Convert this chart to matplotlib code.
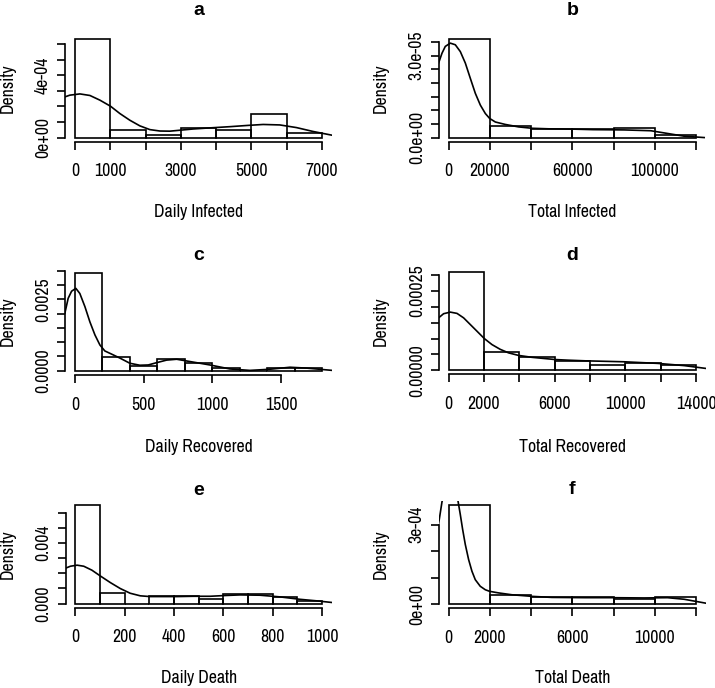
import numpy as np
import matplotlib
matplotlib.use("Agg")
import matplotlib.pyplot as plt
from matplotlib import font_manager
from matplotlib.font_manager import FontProperties
from matplotlib.textpath import TextPath

# ------------------------
# a: Daily Infected
# ------------------------
a_breaks = [0, 1000, 2000, 3000, 4000, 5000, 6000, 7000]
a_density = [6.32e-4, 0.47e-4, 0.15e-4, 0.64e-4, 0.47e-4, 1.48e-4, 0.30e-4]
a_kde_x = [-283, -142, 142, 425, 708, 1009, 1274, 1557, 1840, 2123, 2406,
           2689, 2972, 3349, 3821, 4400, 4900, 5330, 5802, 6274, 6745, 7283]
a_kde_y = [2.61e-4, 2.72e-4, 2.80e-4, 2.70e-4, 2.40e-4, 2.01e-4, 1.54e-4,
           1.11e-4, 0.75e-4, 0.51e-4, 0.42e-4, 0.41e-4, 0.47e-4, 0.55e-4,
           0.62e-4, 0.70e-4, 0.78e-4, 0.84e-4, 0.81e-4, 0.64e-4, 0.39e-4,
           0.15e-4]
a_xticks = [0, 1000, 2000, 3000, 4000, 5000, 6000, 7000]
a_xticklabels = ["0", "1000", "", "3000", "", "5000", "", "7000"]
a_yticks = [0, 1e-4, 2e-4, 3e-4, 4e-4, 5e-4, 6e-4]
a_yticklabels = ["0e+00", "", "", "", "4e-04", "", ""]

# ------------------------
# b: Total Infected
# ------------------------
b_breaks = [0, 20000, 40000, 60000, 80000, 100000, 120000]
b_density = [3.61e-5, 0.42e-5, 0.33e-5, 0.31e-5, 0.34e-5, 0.086e-5]
b_kde_x = [-4854, -3204, -1602, 825, 3252, 5680, 8107, 10534, 12961, 15388,
           17816, 19903, 22670, 27524, 33981, 40485, 48544, 59903, 70000,
           85137, 98061, 106138, 114216, 123909]
b_kde_y = [2.73e-5, 3.09e-5, 3.34e-5, 3.46e-5, 3.40e-5, 3.15e-5, 2.73e-5,
           2.17e-5, 1.62e-5, 1.19e-5, 0.88e-5, 0.70e-5, 0.57e-5, 0.48e-5,
           0.39e-5, 0.34e-5, 0.32e-5, 0.31e-5, 0.29e-5, 0.28e-5, 0.25e-5,
           0.15e-5, 0.05e-5, 0.0]
b_xticks = [0, 20000, 40000, 60000, 80000, 100000, 120000]
b_xticklabels = ["0", "20000", "", "60000", "", "100000", ""]
b_yticks = [0, 0.5e-5, 1e-5, 1.5e-5, 2e-5, 2.5e-5, 3e-5, 3.5e-5]
b_yticklabels = ["0.0e+00", "", "", "", "", "", "3.0e-05", ""]

# ------------------------
# c: Daily Recovered
# ------------------------
c_breaks = [0, 200, 400, 600, 800, 1000, 1200, 1400, 1600, 1800]
c_density = [3.43e-3, 0.49e-3, 0.163e-3, 0.407e-3, 0.256e-3, 0.08e-3,
             0.0, 0.08e-3, 0.08e-3]
c_kde_x = [-73, -49, -24, 7, 36, 73, 109, 146, 182, 218, 267, 328, 400,
           473, 534, 595, 668, 741, 801, 886, 983, 1129, 1274, 1420, 1566,
           1687, 1874]
c_kde_y = [2.01e-3, 2.53e-3, 2.78e-3, 2.88e-3, 2.70e-3, 2.24e-3, 1.71e-3,
           1.25e-3, 0.90e-3, 0.69e-3, 0.58e-3, 0.44e-3, 0.26e-3, 0.19e-3,
           0.20e-3, 0.28e-3, 0.37e-3, 0.40e-3, 0.35e-3, 0.28e-3, 0.20e-3,
           0.06e-3, 0.01e-3, 0.05e-3, 0.12e-3, 0.09e-3, 0.01e-3]
c_xticks = [0, 500, 1000, 1500]
c_xticklabels = ["0", "500", "1000", "1500"]
c_yticks = [0, 0.5e-3, 1e-3, 1.5e-3, 2e-3, 2.5e-3, 3e-3, 3.5e-3]
c_yticklabels = ["0.0000", "", "", "", "", "0.0025", "", ""]

# ------------------------
# d: Total Recovered
# ------------------------
d_breaks = [0, 2000, 4000, 6000, 8000, 10000, 12000, 14000]
d_density = [3.08e-4, 0.575e-4, 0.42e-4, 0.31e-4, 0.18e-4, 0.23e-4, 0.16e-4]
d_kde_x = [-565, -283, 96, 475, 848, 1227, 1606, 2019, 2454, 2923, 3393,
           3958, 4716, 5468, 6033, 6786, 7729, 9934, 11819, 13327, 14571]
d_kde_y = [1.65e-4, 1.78e-4, 1.83e-4, 1.79e-4, 1.65e-4, 1.44e-4, 1.23e-4,
           1.00e-4, 0.81e-4, 0.66e-4, 0.55e-4, 0.47e-4, 0.41e-4, 0.37e-4,
           0.34e-4, 0.32e-4, 0.30e-4, 0.27e-4, 0.22e-4, 0.15e-4, 0.06e-4]
d_xticks = [0, 2000, 4000, 6000, 8000, 10000, 12000, 14000]
d_xticklabels = ["0", "2000", "", "6000", "", "10000", "", "14000"]
d_yticks = [0, 5e-5, 10e-5, 15e-5, 20e-5, 25e-5, 30e-5]
d_yticklabels = ["0.00000", "", "", "", "", "0.00025", ""]

# ------------------------
# e: Daily Death
# ------------------------
e_breaks = [0, 100, 200, 300, 400, 500, 600, 700, 800, 900, 1000]
e_density = [6.5e-3, 0.7e-3, 0.0, 0.48e-3, 0.48e-3, 0.33e-3, 0.66e-3,
             0.66e-3, 0.44e-3, 0.15e-3]
e_kde_x = [-40, -20, 7, 34, 67, 101, 142, 182, 222, 263, 303, 344, 411,
           478, 546, 607, 667, 748, 829, 910, 977, 1040]
e_kde_y = [2.33e-3, 2.46e-3, 2.53e-3, 2.46e-3, 2.20e-3, 1.82e-3, 1.38e-3,
           0.99e-3, 0.68e-3, 0.51e-3, 0.46e-3, 0.46e-3, 0.46e-3, 0.48e-3,
           0.48e-3, 0.53e-3, 0.57e-3, 0.55e-3, 0.44e-3, 0.28e-3, 0.18e-3,
           0.07e-3]
e_xticks = [0, 200, 400, 600, 800, 1000]
e_xticklabels = ["0", "200", "400", "600", "800", "1000"]
e_yticks = [0, 1e-3, 2e-3, 3e-3, 4e-3, 5e-3, 6e-3]
e_yticklabels = ["0.000", "", "", "", "0.004", "", ""]

# ------------------------
# f: Total Death
# ------------------------
f_breaks = [0, 2000, 4000, 6000, 8000, 10000, 12000]
f_density = [3.74e-4, 0.35e-4, 0.25e-4, 0.25e-4, 0.18e-4, 0.25e-4]
f_kde_x = [-485, -320, 60, 456, 567, 680, 809, 970, 1131, 1293, 1535, 1778,
           1987, 2423, 3069, 4038, 5008, 6623, 7868, 9483, 10614, 11422,
           12488]
f_kde_y = [3.03e-4, 3.86e-4, 5.0e-4, 3.89e-4, 3.38e-4, 2.82e-4, 2.25e-4,
           1.68e-4, 1.24e-4, 0.92e-4, 0.67e-4, 0.54e-4, 0.48e-4, 0.42e-4,
           0.35e-4, 0.29e-4, 0.25e-4, 0.24e-4, 0.24e-4, 0.23e-4, 0.24e-4,
           0.18e-4, 0.03e-4]
f_xticks = [0, 2000, 4000, 6000, 8000, 10000, 12000]
f_xticklabels = ["0", "2000", "", "6000", "", "10000", ""]
f_yticks = [0, 1e-4, 2e-4, 3e-4]
f_yticklabels = ["0e+00", "", "", "3e-04"]

titles = ["a", "b", "c", "d", "e", "f"]
xlabels = ["Daily Infected", "Total Infected", "Daily Recovered",
           "Total Recovered", "Daily Death", "Total Death"]

# ------------------------
# layout (pixels, origin top-left)
# ------------------------
W, H = 715, 688
LW = 1.2

# R's narrow Helvetica look: take a condensed sans if one is installed
available = {f.name for f in font_manager.fontManager.ttflist}
FONT = "Liberation Sans"
for cand in ["Liberation Sans Narrow", "Nimbus Sans Narrow", "Arial Narrow",
             "Archivo Narrow", "Roboto Condensed", "PT Sans Narrow"]:
    if cand in available:
        FONT = cand
        break
plt.rcParams["font.family"] = [FONT, "Liberation Sans", "DejaVu Sans"]

# plot region: left, top, right, bottom
regions = [
    (65, 35.1, 332, 141.5), (438.7, 35.1, 706, 141.5),
    (65, 268.7, 332, 374.6), (438.7, 268.4, 706, 374.3),
    (65.5, 501, 332, 607.5), (438.7, 501, 706, 608),
]
title_base = [15, 15, 260, 260, 495, 494]
xlabel_y = [212, 212, 447, 447, 678, 678]
ylabel_x = [7.5, 380.5, 7.5, 380.5, 7.5, 380.5]


def fx(x):
    return x / W


def fy(y):
    return 1 - y / H


panels = [
    (a_breaks, a_density, a_kde_x, a_kde_y, a_xticks, a_xticklabels, a_yticks, a_yticklabels),
    (b_breaks, b_density, b_kde_x, b_kde_y, b_xticks, b_xticklabels, b_yticks, b_yticklabels),
    (c_breaks, c_density, c_kde_x, c_kde_y, c_xticks, c_xticklabels, c_yticks, c_yticklabels),
    (d_breaks, d_density, d_kde_x, d_kde_y, d_xticks, d_xticklabels, d_yticks, d_yticklabels),
    (e_breaks, e_density, e_kde_x, e_kde_y, e_xticks, e_xticklabels, e_yticks, e_yticklabels),
    (f_breaks, f_density, f_kde_x, f_kde_y, f_xticks, f_xticklabels, f_yticks, f_yticklabels),
]

fig = plt.figure(figsize=(W / 100, H / 100), dpi=100)

# font size: balance the reference's text width ("Daily Infected" ~86 px)
# against its digit height (~13 px)
probe = fig.text(0, 0, "Daily Infected", fontsize=12)
w_probe = probe.get_window_extent(fig.canvas.get_renderer()).width
probe.remove()
fs_w = 12 * 86.0 / w_probe
h100 = TextPath((0, 0), "3000", size=100, prop=FontProperties(family=FONT)).get_extents().height
fs_h = 13.0 * 100 / h100 * 0.72
FS = min(14.0, 0.5 * (fs_w + fs_h))
TITLE_FONT = FontProperties(family=["Liberation Sans", "DejaVu Sans"],
                            weight="bold", size=14.0)

for i, (breaks, dens, kx, ky, xt, xtl, yt, ytl) in enumerate(panels):
    l, t, r, b = regions[i]
    ax = fig.add_axes([fx(l), fy(b), (r - l) / W, (b - t) / H])

    # histogram bars (density scale)
    ax.bar(breaks[:-1], dens, width=np.diff(breaks), align="edge",
           fill=False, edgecolor="black", linewidth=LW)
    # kernel density curve
    ax.plot(kx, ky, color="black", linewidth=LW)

    # R-style limits: data range padded by 4%
    span = breaks[-1] - breaks[0]
    ax.set_xlim(breaks[0] - 0.04 * span, breaks[-1] + 0.04 * span)
    ymax = max(dens)
    ax.set_ylim(-0.04 * ymax, 1.04 * ymax)

    ax.set_xticks(xt, xtl, fontsize=FS)
    ax.set_yticks(yt, ytl, fontsize=FS, rotation=90, va="center", ha="center")
    ax.tick_params(axis="x", length=5.8, width=LW, pad=10)
    ax.tick_params(axis="y", length=5.8, width=LW, pad=10)

    for side in ("top", "right"):
        ax.spines[side].set_visible(False)
    ax.spines["left"].set_bounds(yt[0], yt[-1])
    ax.spines["bottom"].set_bounds(xt[0], xt[-1])
    ax.spines["left"].set_linewidth(LW)
    ax.spines["bottom"].set_linewidth(LW)
    ax.patch.set_visible(False)

    cx = (l + r) / 2
    fig.text(fx(cx), fy(title_base[i]), titles[i], ha="center",
             va="baseline", fontproperties=TITLE_FONT)
    fig.text(fx(cx), fy(xlabel_y[i]), xlabels[i], ha="center",
             va="center", fontsize=FS)
    fig.text(fx(ylabel_x[i]), fy((t + b) / 2), "Density", ha="center",
             va="center", rotation=90, fontsize=FS)

fig.savefig("out.png", dpi=100, facecolor="white")
